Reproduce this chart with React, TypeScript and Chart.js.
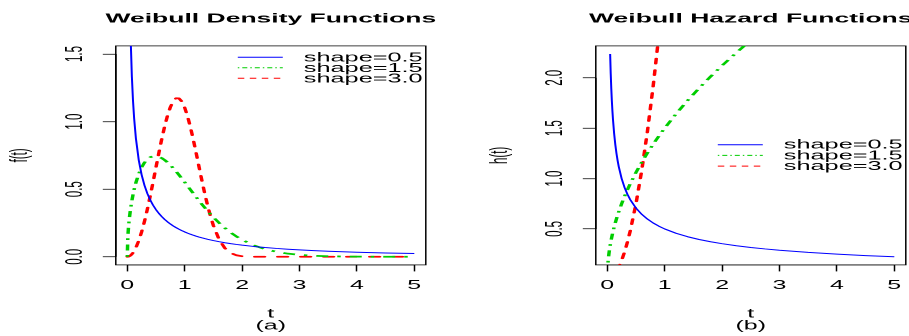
import React, { useEffect, useRef } from 'react';
import { Chart, registerables } from 'chart.js';

Chart.register(...registerables);

const FONT = "'Liberation Sans', Arial, Helvetica, sans-serif";

// ---------------- data ----------------
const seriesLabels = ['shape=0.5', 'shape=1.5', 'shape=3.0'];
const seriesColors = ['#0000FF', '#00CD00', '#FF0000'];

const xTickValues = [0, 1, 2, 3, 4, 5];
const densityYTicks = [0, 0.5, 1.0, 1.5];
const hazardYTicks = [0.5, 1.0, 1.5, 2.0];

const tDensity = [0, 0.01, 0.02, 0.03, 0.04, 0.05, 0.06, 0.08, 0.1, 0.12, 0.15, 0.2, 0.25, 0.3, 0.35, 0.4, 0.45, 0.5, 0.55, 0.6, 0.65, 0.7, 0.75, 0.8, 0.85, 0.9, 0.95, 1.0, 1.05, 1.1, 1.15, 1.2, 1.25, 1.3, 1.35, 1.4, 1.45, 1.5, 1.6, 1.7, 1.8, 1.9, 2.0, 2.2, 2.4, 2.6, 2.8, 3.0, 3.25, 3.5, 3.75, 4.0, 4.25, 4.5, 4.75, 5.0];
const densityShape05 = [null, 4.524, 3.069, 2.428, 2.047, 1.788, 1.598, 1.332, 1.1525, 1.0208, 0.8764, 0.7149, 0.6065, 0.5279, 0.4677, 0.42, 0.3811, 0.3487, 0.3211, 0.2975, 0.2769, 0.2589, 0.2428, 0.2285, 0.2157, 0.2041, 0.1936, 0.1839, 0.1751, 0.167, 0.1595, 0.1526, 0.1462, 0.1402, 0.1346, 0.1294, 0.1245, 0.1199, 0.1116, 0.1041, 0.0974, 0.0914, 0.086, 0.0765, 0.0686, 0.0618, 0.0561, 0.0511, 0.0457, 0.0412, 0.0372, 0.0338, 0.0309, 0.0283, 0.0259, 0.0239];
const densityShape15 = [0, 0.1499, 0.2115, 0.2585, 0.2976, 0.3317, 0.3621, 0.4148, 0.4596, 0.4985, 0.5482, 0.6134, 0.6619, 0.6971, 0.7214, 0.7366, 0.744, 0.7448, 0.7398, 0.7301, 0.7161, 0.6987, 0.6785, 0.656, 0.6317, 0.6059, 0.5792, 0.5518, 0.5241, 0.4963, 0.4686, 0.4413, 0.4146, 0.3885, 0.3631, 0.3387, 0.3151, 0.2926, 0.2507, 0.2131, 0.1799, 0.1507, 0.1254, 0.0852, 0.0564, 0.0365, 0.0232, 0.0144, 0.0077, 0.004, 0.002, 0.001, 0.0005, 0.0002, 0.0001, 0.0];
const densityShape30 = [0, 0.0003, 0.0012, 0.0027, 0.0048, 0.0075, 0.0108, 0.0192, 0.03, 0.0431, 0.0673, 0.119, 0.1846, 0.2628, 0.3521, 0.4502, 0.5546, 0.6619, 0.7684, 0.8702, 0.9631, 1.0432, 1.1067, 1.1507, 1.1729, 1.1722, 1.1487, 1.1036, 1.0393, 0.9591, 0.867, 0.7674, 0.6648, 0.5635, 0.4669, 0.3782, 0.2991, 0.231, 0.1278, 0.0637, 0.0285, 0.0114, 0.004, 0.0003, 0, 0, 0, 0, 0, 0, 0, 0, 0, 0, 0, 0];

const tHazard = [0, 0.01, 0.02, 0.03, 0.04, 0.05, 0.06, 0.07, 0.08, 0.09, 0.1, 0.12, 0.14, 0.16, 0.18, 0.2, 0.25, 0.3, 0.35, 0.4, 0.5, 0.6, 0.7, 0.8, 0.9, 1.0, 1.2, 1.4, 1.6, 1.8, 2.0, 2.25, 2.5, 2.75, 3.0, 3.5, 4.0, 4.5, 5.0];
const hazardShape05 = [null, null, null, null, null, 2.2361, 2.0412, 1.8898, 1.7678, 1.6667, 1.5811, 1.4434, 1.3363, 1.25, 1.1785, 1.118, 1.0, 0.9129, 0.8452, 0.7906, 0.7071, 0.6455, 0.5976, 0.559, 0.527, 0.5, 0.4564, 0.4226, 0.3953, 0.3727, 0.3536, 0.3333, 0.3162, 0.3015, 0.2887, 0.2673, 0.25, 0.2357, 0.2236];
const hazardShape15 = [0, 0.15, 0.2121, 0.2598, 0.3, 0.3354, 0.3674, 0.3969, 0.4243, 0.45, 0.4743, 0.5196, 0.5612, 0.6, 0.6364, 0.6708, 0.75, 0.8216, 0.8874, 0.9487, 1.0607, 1.1619, 1.255, 1.3416, 1.423, 1.5, 1.6432, 1.7748, 1.8974, 2.0125, 2.1213, 2.25, 2.3717, 2.4875, 2.5981, 2.8062, 3.0, 3.182, 3.3541];
const hazardShape30 = [0, 0.0003, 0.0012, 0.0027, 0.0048, 0.0075, 0.0108, 0.0147, 0.0192, 0.0243, 0.03, 0.0432, 0.0588, 0.0768, 0.0972, 0.12, 0.1875, 0.27, 0.3675, 0.48, 0.75, 1.08, 1.47, 1.92, 2.43, 3.0, 4.32, 5.88, 7.68, 9.72, 12.0, 15.1875, 18.75, 22.6875, 27.0, 36.75, 48.0, 60.75, 75.0];

// ---------------- styles ----------------
const curveWidths = [2, 3.5, 3.5];
// solid blue is given as one endless dash so Chart.js keeps every vertex
const curveDashes = [[100000, 0], [3.5, 9, 12, 9], [10, 13]];
const curveCaps = ['butt', 'butt', 'round'];
const legendDashes = [[], [1.5, 3, 5, 3], [6.5, 5.5]];

const CANVAS_H = 672; // drawn at 2x height, shown at 336 css px
const AREA_TOP = 91.8;
const AREA_BOTTOM = 529.8;
const YAXIS_W = 115.8;
const TITLE_SIZE = 26.5;
const TITLE_BASELINE = 44.6;
const TICK_X_SIZE = 25;
const TICK_Y_SIZE = 23;
const LEGEND_SIZE = 25.3;

const densityPanel = {
  title: 'Weibull Density Functions',
  yLabel: 'f(t)',
  sub: '(a)',
  t: tDensity,
  series: [densityShape05, densityShape15, densityShape30],
  yMin: -0.06,
  yMax: 1.56,
  yTicks: densityYTicks,
  padLeft: 0,
  padRight: 29.2,
  legendMode: 'topright',
};

const hazardPanel = {
  title: 'Weibull Hazard Functions',
  yLabel: 'h(t)',
  sub: '(b)',
  t: tHazard,
  series: [hazardShape05, hazardShape15, hazardShape30],
  yMin: 0.1431,
  yMax: 2.3166,
  yTicks: hazardYTicks,
  padLeft: 25,
  padRight: 3.2,
  legendMode: 'right',
};

const boxPlugin = {
  id: 'rBox',
  beforeDatasetsDraw(chart: any) {
    const { ctx, chartArea: a, scales } = chart;
    ctx.save();
    ctx.strokeStyle = '#000';
    ctx.lineWidth = 1.5;
    ctx.setLineDash([]);
    ctx.strokeRect(a.left, a.top, a.right - a.left, a.bottom - a.top);
    const xs = scales.x;
    const ys = scales.y;
    ctx.beginPath();
    ctx.moveTo(xs.getPixelForValue(xs.ticks[0].value), a.bottom);
    ctx.lineTo(xs.getPixelForValue(xs.ticks[xs.ticks.length - 1].value), a.bottom);
    ctx.moveTo(a.left, ys.getPixelForValue(ys.ticks[0].value));
    ctx.lineTo(a.left, ys.getPixelForValue(ys.ticks[ys.ticks.length - 1].value));
    ctx.stroke();
    ctx.restore();
  },
};

// main title centred over the plot region (may run past the plot box, like R)
const titlePlugin = {
  id: 'rTitle',
  afterDraw(chart: any, _args: any, opts: any) {
    const { ctx, chartArea: a } = chart;
    ctx.save();
    ctx.fillStyle = '#000';
    ctx.font = `bold ${TITLE_SIZE}px ${FONT}`;
    ctx.textAlign = 'center';
    ctx.textBaseline = 'alphabetic';
    ctx.fillText(opts.text, (a.left + a.right) / 2, TITLE_BASELINE);
    ctx.restore();
  },
};

const legendPlugin = {
  id: 'rLegend',
  afterDatasetsDraw(chart: any, _args: any, opts: any) {
    const { ctx, chartArea: a } = chart;
    const ds = chart.data.datasets;
    const n = ds.length;
    const gap = opts.rowGap;
    const firstY = opts.mode === 'topright'
      ? a.top + opts.topOffset
      : (a.top + a.bottom) / 2 - (gap * (n - 1)) / 2;
    const textX = a.right - opts.rightOffset;
    ctx.save();
    ds.forEach((d: any, i: number) => {
      const y = firstY + i * gap;
      ctx.beginPath();
      ctx.setLineDash(legendDashes[i]);
      ctx.lineWidth = 2;
      ctx.lineCap = 'butt';
      ctx.strokeStyle = d.borderColor;
      ctx.moveTo(textX - 66, y);
      ctx.lineTo(textX - 21, y);
      ctx.stroke();
      ctx.setLineDash([]);
      ctx.fillStyle = '#000';
      ctx.font = `${LEGEND_SIZE}px ${FONT}`;
      ctx.textBaseline = 'middle';
      ctx.textAlign = 'left';
      ctx.fillText(d.label, textX, y + opts.textDy);
    });
    ctx.restore();
  },
};

function makeConfig(p: any): any {
  const gridOpts = {
    display: true,
    drawOnChartArea: false,
    drawTicks: true,
    tickLength: 13,
    tickWidth: 1.5,
    tickColor: '#000',
  };
  return {
    type: 'line',
    data: {
      datasets: p.series.map((ys: (number | null)[], i: number) => ({
        label: seriesLabels[i],
        data: p.t.map((x: number, j: number) => ({ x, y: ys[j] })),
        borderColor: seriesColors[i],
        backgroundColor: seriesColors[i],
        borderWidth: curveWidths[i],
        borderDash: curveDashes[i],
        borderCapStyle: curveCaps[i],
        borderJoinStyle: 'round',
        pointRadius: 0,
        pointHoverRadius: 0,
        fill: false,
        tension: 0,
        clip: 0,
        spanGaps: false,
      })),
    },
    options: {
      responsive: false,
      animation: false,
      devicePixelRatio: 1,
      events: [],
      layout: { padding: { left: p.padLeft, right: p.padRight, top: AREA_TOP, bottom: 0 } },
      plugins: {
        legend: { display: false },
        tooltip: { enabled: false },
        title: { display: false },
        rTitle: { text: p.title },
        rLegend: {
          mode: p.legendMode,
          rowGap: p.legendMode === 'topright' ? 21 : 21.4,
          topOffset: 22.8,
          rightOffset: 122,
          textDy: 1,
        },
      },
      scales: {
        x: {
          type: 'linear',
          min: -0.2,
          max: 5.2,
          afterBuildTicks: (s: any) => {
            s.ticks = xTickValues.map((v) => ({ value: v }));
          },
          afterFit: (s: any) => {
            s.height = CANVAS_H - AREA_BOTTOM;
            s.paddingLeft = 0;
            s.paddingRight = 0;
          },
          grid: gridOpts,
          border: { display: false },
          ticks: {
            autoSkip: false,
            minRotation: 0,
            maxRotation: 0,
            padding: 13.5,
            color: '#000',
            font: { family: FONT, size: TICK_X_SIZE },
            callback: (v: any) => String(v),
          },
          title: {
            display: true,
            text: ['t', p.sub],
            color: '#000',
            font: { family: FONT, size: TICK_X_SIZE, lineHeight: 24.4 / TICK_X_SIZE },
            padding: { top: 0, bottom: 7.5 },
          },
        },
        y: {
          type: 'linear',
          min: p.yMin,
          max: p.yMax,
          afterBuildTicks: (s: any) => {
            s.ticks = p.yTicks.map((v: number) => ({ value: v }));
          },
          afterFit: (s: any) => {
            s.width = YAXIS_W;
            s.paddingTop = 0;
            s.paddingBottom = 0;
          },
          grid: gridOpts,
          border: { display: false },
          ticks: {
            autoSkip: false,
            minRotation: 90,
            maxRotation: 90,
            crossAlign: 'center',
            padding: 11.5,
            color: '#000',
            font: { family: FONT, size: TICK_Y_SIZE },
            callback: (v: any) => Number(v).toFixed(1),
          },
          title: {
            display: true,
            text: p.yLabel,
            color: '#000',
            font: { family: FONT, size: TICK_Y_SIZE, lineHeight: 1.2 },
            padding: { top: 6.5, bottom: 0 },
          },
        },
      },
    },
    plugins: [boxPlugin, legendPlugin, titlePlugin],
  };
}

export default function App() {
  const leftRef = useRef<HTMLCanvasElement>(null);
  const rightRef = useRef<HTMLCanvasElement>(null);

  useEffect(() => {
    const c1 = new Chart(leftRef.current as HTMLCanvasElement, makeConfig(densityPanel));
    const c2 = new Chart(rightRef.current as HTMLCanvasElement, makeConfig(hazardPanel));
    return () => {
      c1.destroy();
      c2.destroy();
    };
  }, []);

  return (
    <div style={{ position: 'absolute', left: 0, top: 0, width: 909, height: 336, background: '#fff', overflow: 'hidden' }}>
      <canvas
        ref={leftRef}
        width={455}
        height={CANVAS_H}
        style={{ position: 'absolute', left: 0, top: 0, width: '455px', height: '336px' }}
      />
      <canvas
        ref={rightRef}
        width={454}
        height={CANVAS_H}
        style={{ position: 'absolute', left: 455, top: 0, width: '454px', height: '336px' }}
      />
    </div>
  );
}
